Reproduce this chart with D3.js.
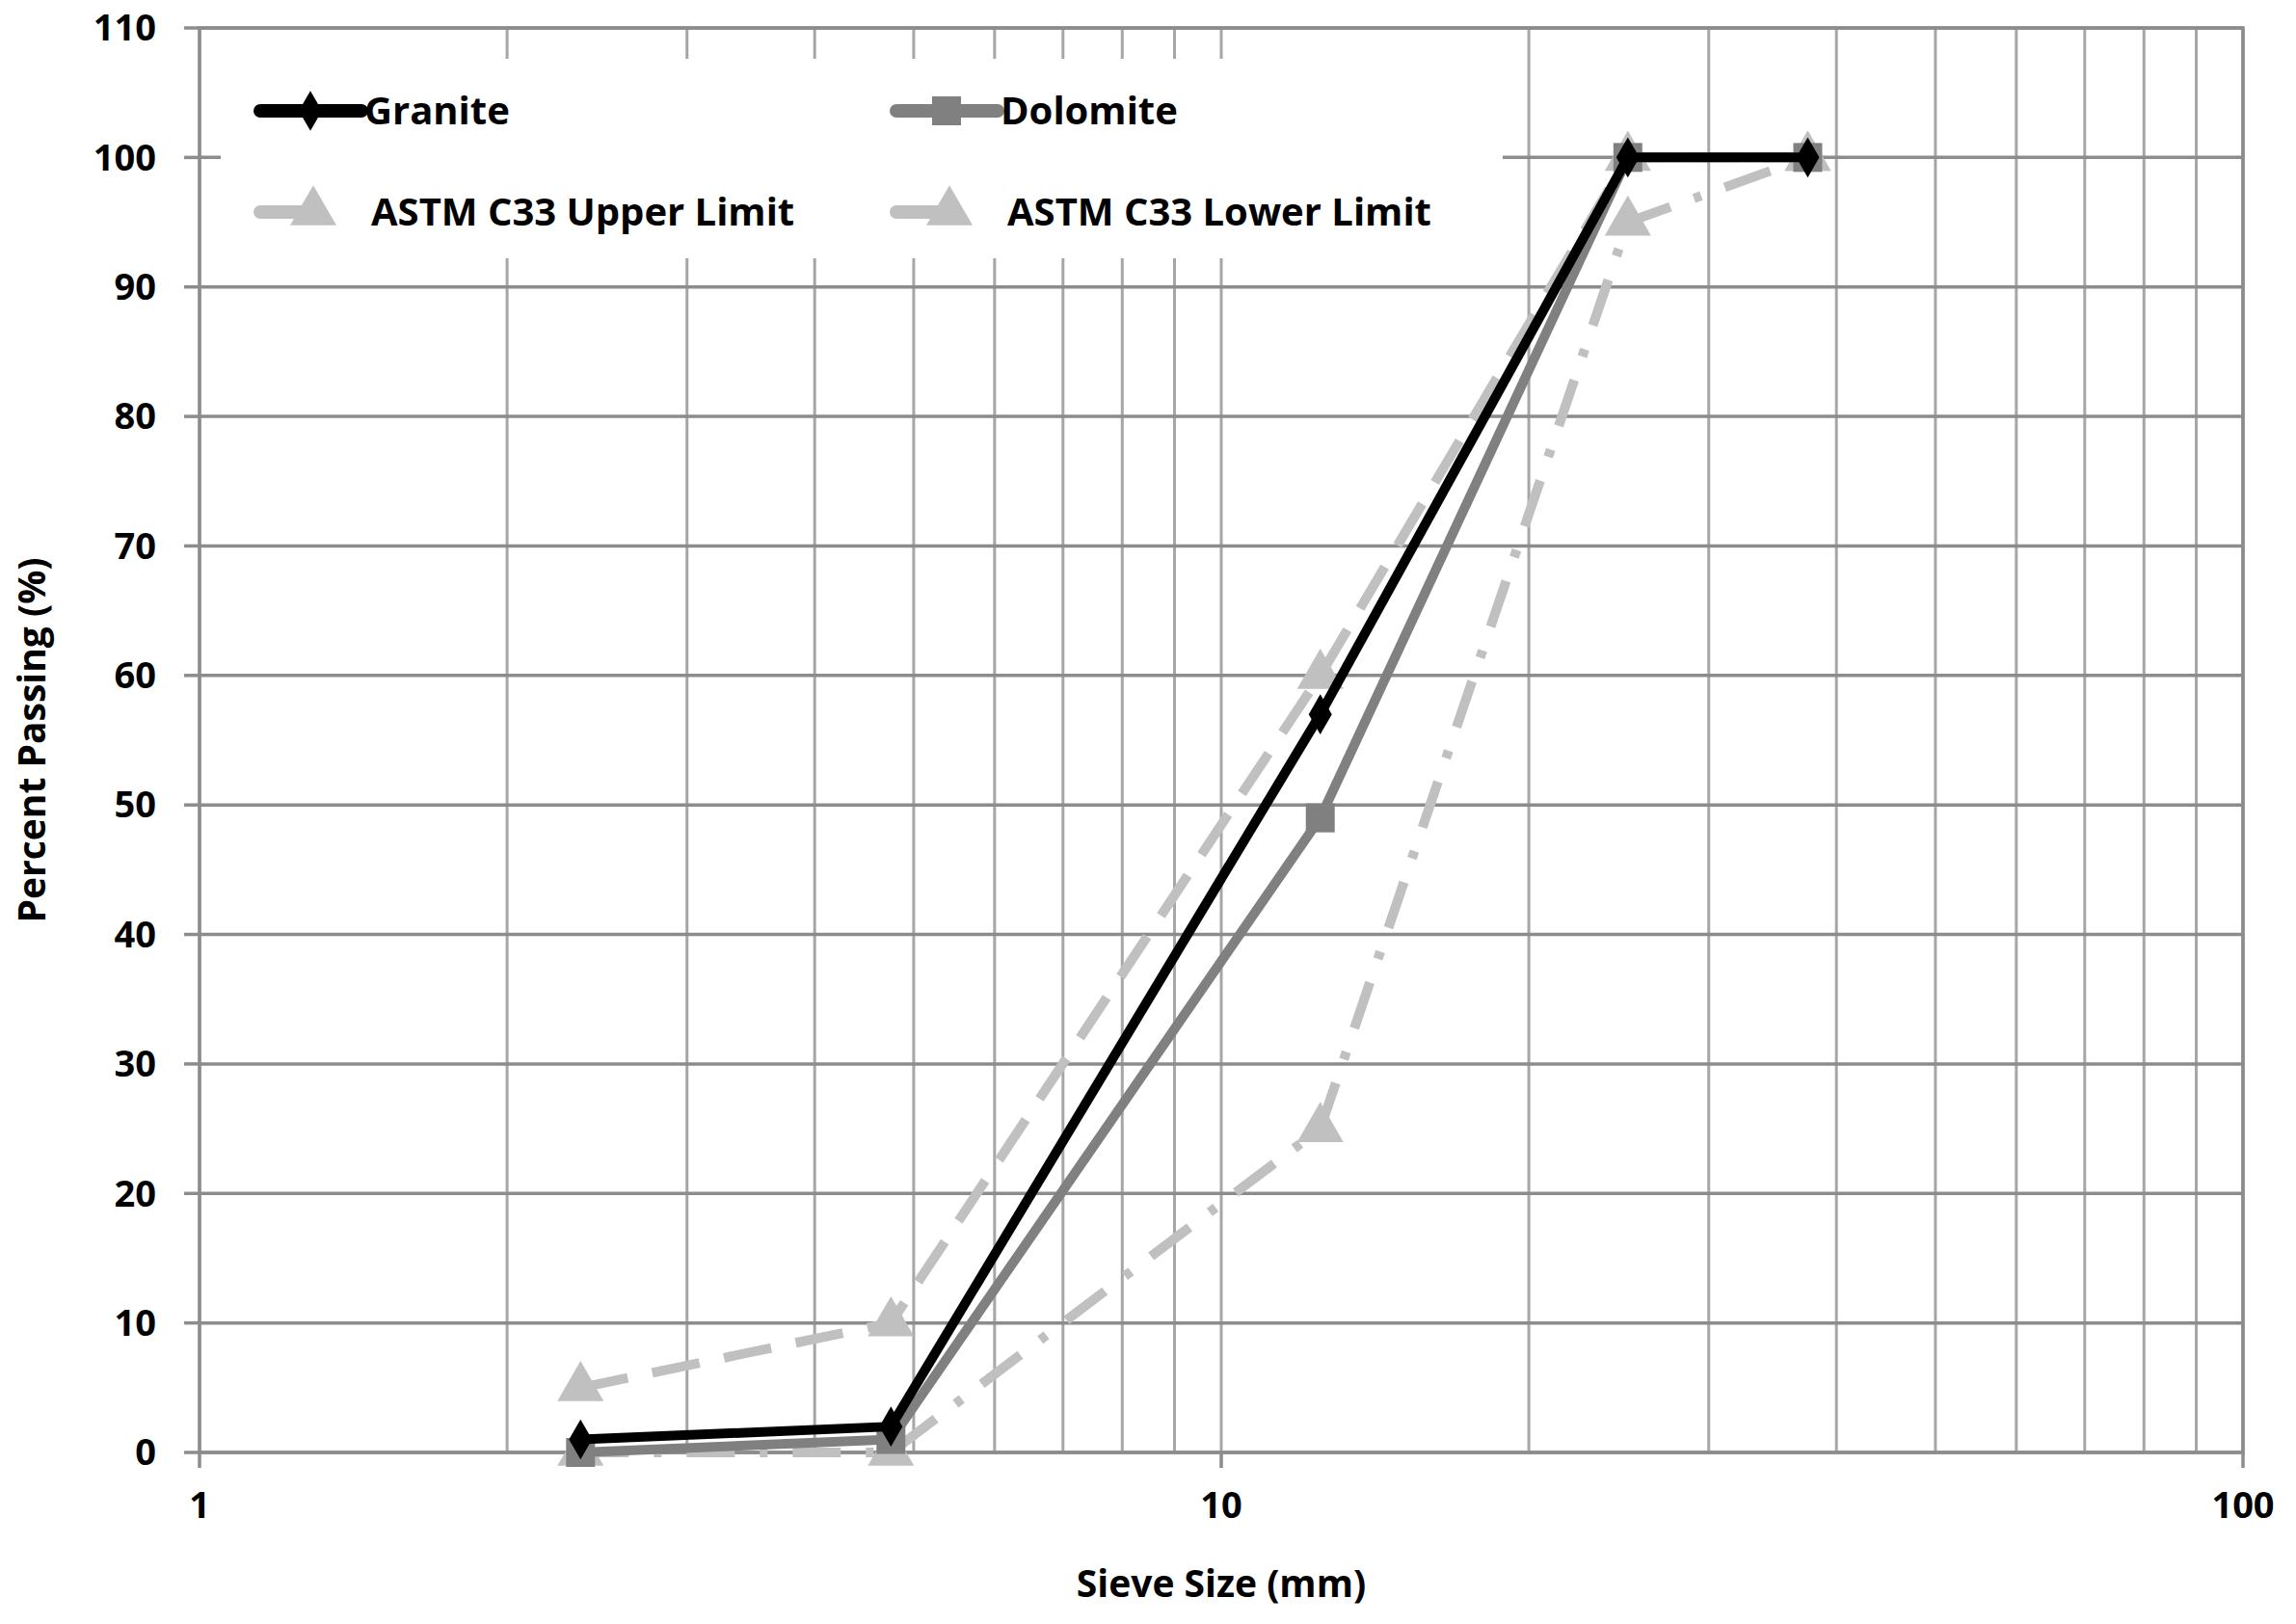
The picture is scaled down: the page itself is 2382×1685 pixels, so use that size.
<!DOCTYPE html>
<html>
<head>
<meta charset="utf-8">
<script src="https://cdn.jsdelivr.net/npm/d3@7"></script>
<style>
  body { margin: 0; background: #fff; }
  text { font-family: "Open Sans", sans-serif; font-weight: bold; fill: #000; }
</style>
</head>
<body>
<div id="chart"></div>
<script>
// sieve sizes (mm) and percent passing
var sieve = [2.36, 4.75, 12.5, 25, 37.5];
var granite = [1, 2, 57, 100, 100];
var dolomite = [0, 1, 49, 100, 100];
var upperLimit = [5, 10, 60, 100, 100];
var lowerLimit = [0, 0, 25, 95, 100];
var yTicks = [0, 10, 20, 30, 40, 50, 60, 70, 80, 90, 100, 110];
var xTicks = [1, 10, 100];

var svgWidth = 2382, svgHeight = 1685;
var margin = { top: 29, right: 55, bottom: 178, left: 207 };
var width = svgWidth - margin.left - margin.right;
var height = svgHeight - margin.top - margin.bottom;

var svg = d3.select("#chart").append("svg")
  .attr("width", svgWidth).attr("height", svgHeight);
var g = svg.append("g").attr("transform", `translate(${margin.left},${margin.top})`);

var x = d3.scaleLog().domain([1, 100]).range([0, width]);
var y = d3.scaleLinear().domain([0, 110]).range([height, 0]);

// vertical grid (log minor)
var minor = [];
for (var d = 1; d <= 100; d *= 10) for (var k = 1; k < 10; k++) if (d * k <= 100) minor.push(d * k);
minor.push(100);
g.selectAll(".vg").data(minor).enter().append("line")
  .attr("x1", d => x(d)).attr("x2", d => x(d))
  .attr("y1", 0).attr("y2", height)
  .attr("stroke", "#a6a6a6").attr("stroke-width", 3);

// horizontal grid
g.selectAll(".hg").data(yTicks).enter().append("line")
  .attr("x1", 0).attr("x2", width)
  .attr("y1", d => y(d)).attr("y2", d => y(d))
  .attr("stroke", "#8c8c8c").attr("stroke-width", 3.5);

// frame
g.append("rect").attr("width", width).attr("height", height)
  .attr("fill", "none").attr("stroke", "#8c8c8c").attr("stroke-width", 3.5);

// axes labels
g.selectAll(".yt").data(yTicks).enter().append("text")
  .attr("x", -45).attr("y", d => y(d)).attr("dy", "0.35em")
  .attr("text-anchor", "end").style("font-size", "38px").text(d => d);
g.selectAll(".yk").data(yTicks).enter().append("line")
  .attr("x1", -16).attr("x2", 0).attr("y1", d => y(d)).attr("y2", d => y(d))
  .attr("stroke", "#8c8c8c").attr("stroke-width", 3.5);
g.selectAll(".xt").data(xTicks).enter().append("text")
  .attr("x", d => x(d)).attr("y", height + 68)
  .attr("text-anchor", "middle").style("font-size", "38px").text(d => d);
g.selectAll(".xk").data(xTicks).enter().append("line")
  .attr("x1", d => x(d)).attr("x2", d => x(d)).attr("y1", height).attr("y2", height + 16)
  .attr("stroke", "#8c8c8c").attr("stroke-width", 3.5);

g.append("text").attr("x", width / 2).attr("y", height + 150)
  .attr("text-anchor", "middle").style("font-size", "39px").text("Sieve Size (mm)");
g.append("text").attr("transform", `translate(${-160},${height / 2}) rotate(-90)`)
  .attr("text-anchor", "middle").style("font-size", "39px").text("Percent Passing (%)");

// legend background
g.append("rect").attr("x", 22).attr("y", 32).attr("width", 1330).attr("height", 207).attr("fill", "#fff");

var series = [
  { name: "Granite", v: granite, color: "#000", width: 10, dash: null, marker: "diamond" },
  { name: "Dolomite", v: dolomite, color: "#808080", width: 10, dash: null, marker: "square" },
  { name: "ASTM C33 Upper Limit", v: upperLimit, color: "#c0c0c0", width: 10, dash: "50,26", marker: "triangle" },
  { name: "ASTM C33 Lower Limit", v: lowerLimit, color: "#c0c0c0", width: 10, dash: "50,26,8,26", marker: "triangle" }
];
var symType = { diamond: d3.symbolDiamond, square: d3.symbolSquare, triangle: d3.symbolTriangle };
var symSize = { diamond: 500, square: 900, triangle: 1000 };

var line = d3.line().x(d => x(d[0])).y(d => y(d[1]));
// draw lower, upper first then dolomite and granite
[3, 2, 1, 0].forEach(function(i) {
  var s = series[i];
  var pts = sieve.map((sv, j) => [sv, s.v[j]]);
  g.append("path").datum(pts).attr("d", line)
    .attr("fill", "none").attr("stroke", s.color).attr("stroke-width", s.width)
    .attr("stroke-dasharray", s.dash).attr("stroke-linejoin", "round");
  g.selectAll(null).data(pts).enter().append("path")
    .attr("d", d3.symbol().type(symType[s.marker]).size(symSize[s.marker]))
    .attr("transform", d => `translate(${x(d[0])},${y(d[1])})`)
    .attr("fill", s.color);
});

// legend
var legPos = [[63, 86], [723, 86], [63, 191], [723, 191]];
series.forEach(function(s, i) {
  var lx = legPos[i][0], ly = legPos[i][1];
  var lg = g.append("g").attr("transform", `translate(${lx},${ly})`);
  lg.append("line").attr("x1", 0).attr("x2", s.marker === "triangle" ? 60 : 105)
    .attr("stroke", s.color).attr("stroke-width", 14).attr("stroke-linecap", "round");
  lg.append("path").attr("d", d3.symbol().type(symType[s.marker]).size(symSize[s.marker]))
    .attr("transform", `translate(${s.marker === "triangle" ? 55 : 52},0)`).attr("fill", s.color);
  lg.append("text").attr("x", s.marker === "triangle" ? 115 : 108).attr("dy", "0.35em")
    .style("font-size", "40px").text(s.name);
});
</script>
</body>
</html>
